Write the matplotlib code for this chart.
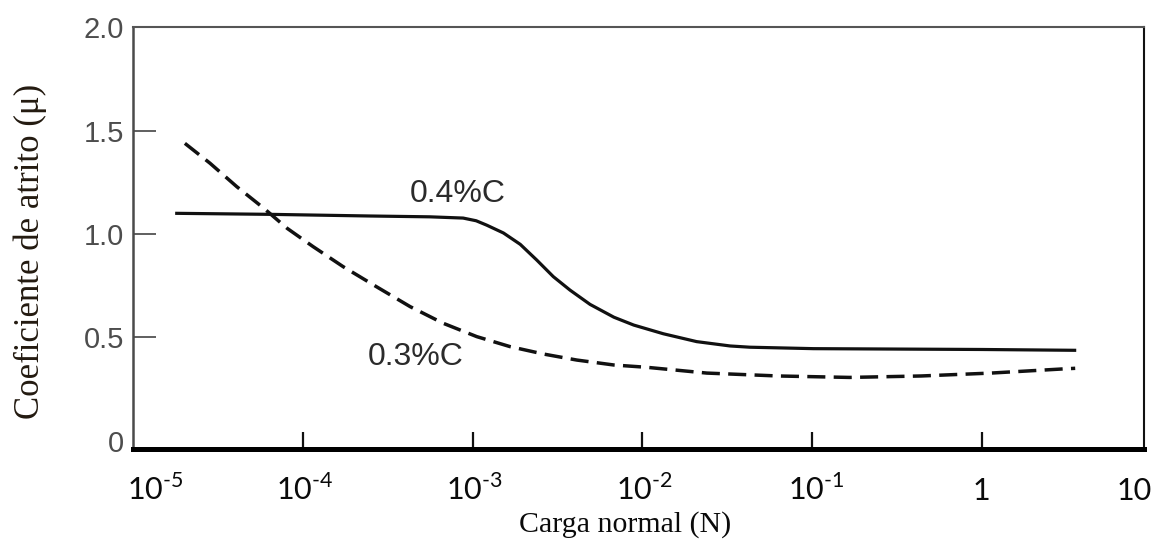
import matplotlib

matplotlib.use("Agg")
import matplotlib.pyplot as plt
from matplotlib.transforms import ScaledTranslation, blended_transform_factory

# Friction coefficient vs normal load, two carbon contents
load_04 = [1.77e-5, 6.4e-5, 2.49e-4, 5.6e-4, 8.8e-4, 1.05e-3, 1.21e-3, 1.52e-3,
           1.91e-3, 2.39e-3, 2.99e-3, 3.75e-3, 4.92e-3, 6.8e-3, 8.9e-3, 1.33e-2,
           2.09e-2, 3.29e-2, 4.3e-2, 0.102, 0.32, 1.0, 3.6]
mu_04 = [1.100, 1.095, 1.087, 1.083, 1.077, 1.064, 1.043, 1.005,
         0.950, 0.874, 0.794, 0.729, 0.660, 0.598, 0.560, 0.518,
         0.480, 0.459, 0.453, 0.446, 0.444, 0.442, 0.438]

load_03 = [2.02e-5, 2.84e-5, 4.08e-5, 5.9e-5, 8.1e-5, 1.15e-4, 1.73e-4, 2.72e-4,
           4.29e-4, 6.7e-4, 1.06e-3, 1.66e-3, 2.62e-3, 4.11e-3, 6.8e-3, 1.06e-2,
           2.4e-2, 6.3e-2, 0.166, 0.44, 1.13, 3.0, 3.55]
mu_03 = [1.438, 1.342, 1.229, 1.124, 1.027, 0.939, 0.842, 0.745,
         0.649, 0.569, 0.504, 0.456, 0.420, 0.391, 0.367, 0.356,
         0.328, 0.314, 0.307, 0.314, 0.328, 0.348, 0.351]

y_ticks = [0, 0.5, 1.0, 1.5, 2.0]
y_tick_labels = ["0", "0.5", "1.0", "1.5", "2.0"]
x_ticks = [1e-4, 1e-3, 1e-2, 1e-1, 1]
x_label_pos = [1e-5, 1e-4, 1e-3, 1e-2, 1e-1, 1, 10]
x_label_text = [r"10$^{\text{-5}}$", r"10$^{\text{-4}}$", r"10$^{\text{-3}}$",
                r"10$^{\text{-2}}$", r"10$^{\text{-1}}$", "1", "10"]
# nudges (px) for the end labels, which sit inside the frame
x_label_nudge = [22, 2, 2, 2, 4, 0, -17]

plt.rcParams["mathtext.fontset"] = "custom"
plt.rcParams["mathtext.rm"] = "Lato"

fig = plt.figure(figsize=(11.55, 5.41), dpi=100)
ax = fig.add_axes([0.1152, 0.170, 0.8753, 0.780])

ax.plot(load_04, mu_04, color="#111111", lw=2.3, solid_capstyle="butt",
        solid_joinstyle="round")
ax.plot(load_03, mu_03, color="#111111", lw=2.5, dashes=(5.2, 2.4))

ax.set_xscale("log")
ax.set_xlim(1e-5, 9.03)
ax.set_ylim(-0.039, 2.0)

# frame: heavy bottom rule, grey left/top
ax.spines["bottom"].set_linewidth(3.6)
ax.spines["bottom"].set_color("#000000")
ax.spines["left"].set_linewidth(1.8)
ax.spines["left"].set_color("#4a4a4a")
ax.spines["top"].set_linewidth(1.5)
ax.spines["top"].set_color("#555555")
ax.spines["right"].set_linewidth(1.5)
ax.spines["right"].set_color("#111111")

ax.set_yticks(y_ticks)
ax.set_yticklabels(y_tick_labels, family="Liberation Sans", fontsize=21,
                   color="#4d4d4d")
ax.tick_params(axis="y", direction="in", length=16.5, width=1.2,
               color="#444444", pad=6.5)
ax.yaxis.get_major_ticks()[0].tick1line.set_visible(False)
ax.yaxis.get_major_ticks()[-1].tick1line.set_visible(False)

ax.set_xticks(x_ticks)
ax.xaxis.set_minor_locator(matplotlib.ticker.NullLocator())
ax.tick_params(axis="x", direction="in", length=12.5, width=1.6,
               color="#111111", labelbottom=False)

# decade labels drawn on a shared baseline below the frame
base = blended_transform_factory(ax.transData, ax.transAxes)
for pos, txt, dx in zip(x_label_pos, x_label_text, x_label_nudge):
    tr = base + ScaledTranslation(dx / 100, -51 / 100, fig.dpi_scale_trans)
    ax.text(pos, 0, txt, transform=tr, ha="center", va="baseline",
            family="Lato", fontsize=22, color="#0a0a0a", clip_on=False)

ax.set_xlabel("Carga normal (N)", family="Liberation Serif", fontsize=21.5,
              color="#0a0a0a", va="center")
ax.xaxis.set_label_coords(0.487, -0.18)
ax.set_ylabel("Coeficiente de atrito (μ)", family="Liberation Serif",
              fontsize=25, color="#231a10", va="center")
ax.yaxis.set_label_coords(-0.102, 0.469)

# curve annotations
ax.text(8.2e-4, 1.193, "0.4%C", family="Liberation Sans", fontsize=23,
        color="#2b2b2b", ha="center", va="center")
ax.text(4.6e-4, 0.406, "0.3%C", family="Liberation Sans", fontsize=23,
        color="#2b2b2b", ha="center", va="center")

fig.savefig("out.png", dpi=100)
